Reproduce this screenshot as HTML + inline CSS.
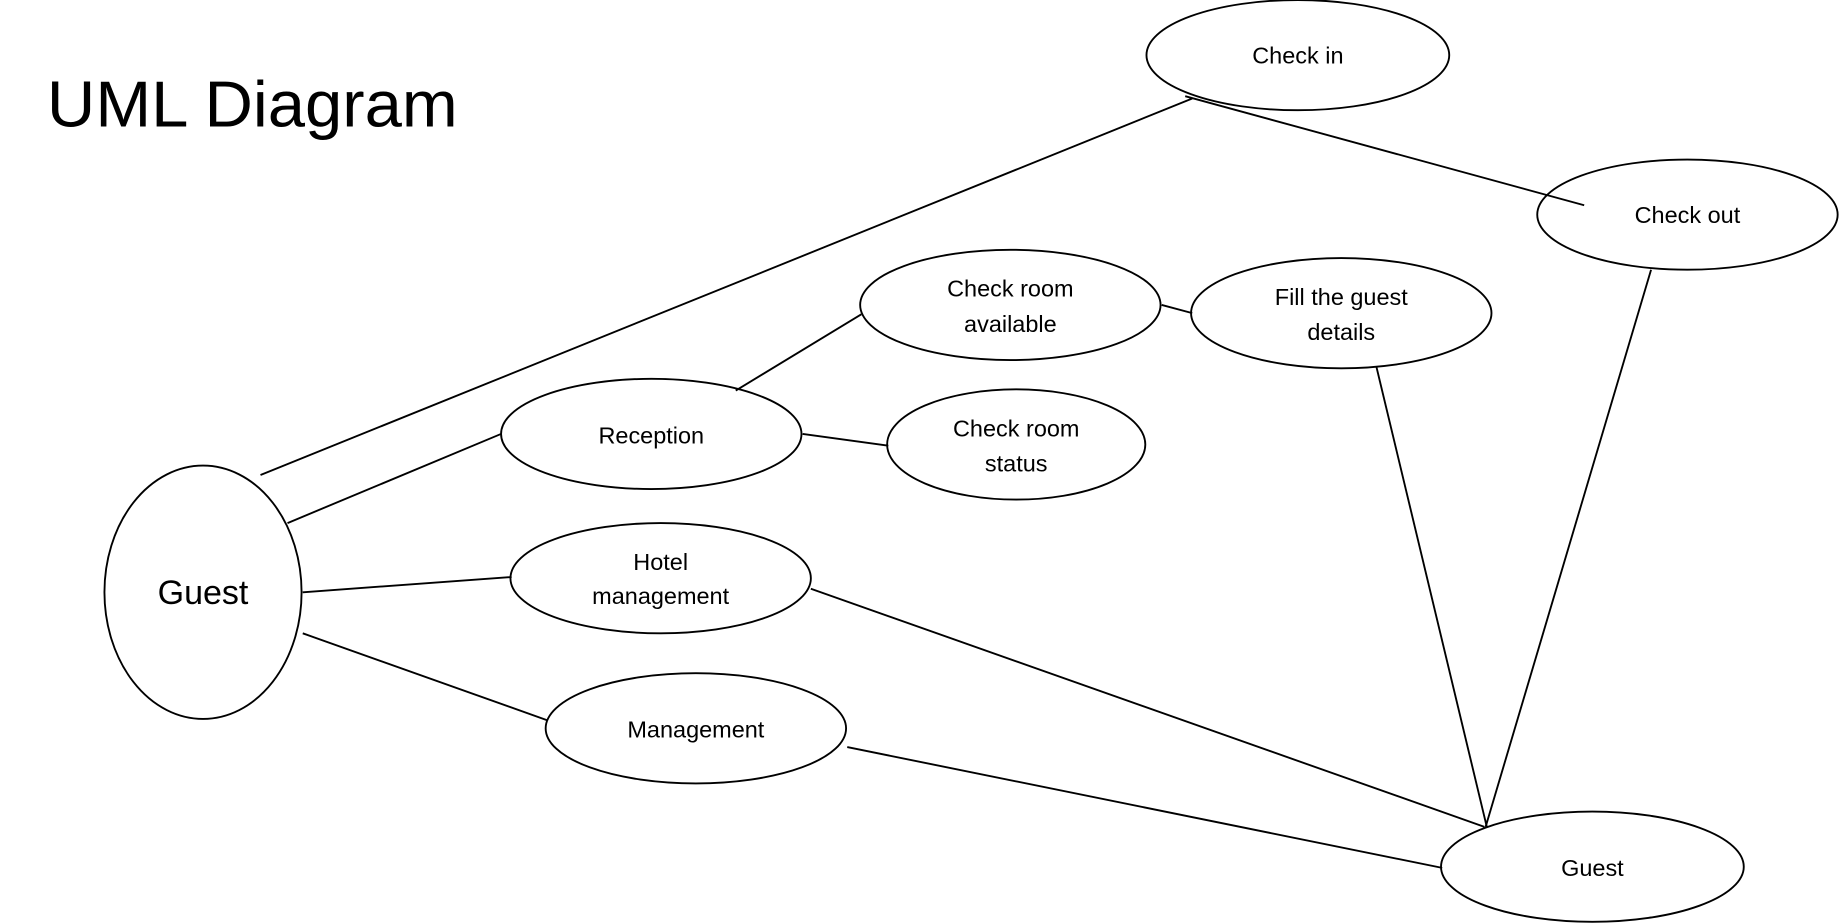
<!DOCTYPE html>
<html><head><meta charset="utf-8"><style>
html,body{margin:0;padding:0;background:#fff;}
svg{display:block;}
text{font-family:"Liberation Sans",sans-serif;fill:#000;}
</style></head><body>
<svg width="1840" height="923" viewBox="0 0 1568 787" preserveAspectRatio="none" xmlns="http://www.w3.org/2000/svg">
<text x="40" y="108" font-size="55" textLength="350" lengthAdjust="spacingAndGlyphs">UML Diagram</text>
<g fill="#fff" stroke="#000" stroke-width="1.6">
<ellipse cx="1106" cy="47" rx="129" ry="47"/>
<ellipse cx="1438" cy="183" rx="128" ry="47"/>
<ellipse cx="861" cy="260" rx="128" ry="47"/>
<ellipse cx="1143" cy="267" rx="128" ry="47"/>
<ellipse cx="555" cy="370" rx="128" ry="47"/>
<ellipse cx="866" cy="379" rx="110" ry="47"/>
<ellipse cx="173" cy="505" rx="84" ry="108"/>
<ellipse cx="563" cy="493" rx="128" ry="47"/>
<ellipse cx="593" cy="621" rx="128" ry="47"/>
<ellipse cx="1357" cy="739" rx="129" ry="47"/>
</g>
<g stroke="#000" stroke-width="1.6">
<line x1="222" y1="405" x2="1016" y2="84"/>
<line x1="1010" y1="82" x2="1350" y2="175"/>
<line x1="245" y1="446" x2="427" y2="370"/>
<line x1="627" y1="333" x2="734" y2="268"/>
<line x1="684" y1="370" x2="757" y2="380"/>
<line x1="990" y1="260" x2="1016" y2="267"/>
<line x1="258" y1="505" x2="436" y2="492"/>
<line x1="258" y1="540" x2="466" y2="614"/>
<line x1="691" y1="502" x2="1265" y2="705"/>
<line x1="722" y1="637" x2="1229" y2="740"/>
<line x1="1173" y1="313" x2="1267" y2="705"/>
<line x1="1407" y1="230" x2="1266" y2="705"/>
</g>
<g font-size="20" text-anchor="middle">
<text x="1106" y="54">Check in</text>
<text x="1438" y="190">Check out</text>
<text x="861" y="253">Check room</text>
<text x="861" y="283">available</text>
<text x="1143" y="260">Fill the guest</text>
<text x="1143" y="290">details</text>
<text x="555" y="378">Reception</text>
<text x="866" y="372">Check room</text>
<text x="866" y="402">status</text>
<text x="563" y="486">Hotel</text>
<text x="563" y="515">management</text>
<text x="593" y="629">Management</text>
<text x="1357" y="747">Guest</text>
<text x="173" y="515" font-size="29">Guest</text>
</g>
</svg>
</body></html>
